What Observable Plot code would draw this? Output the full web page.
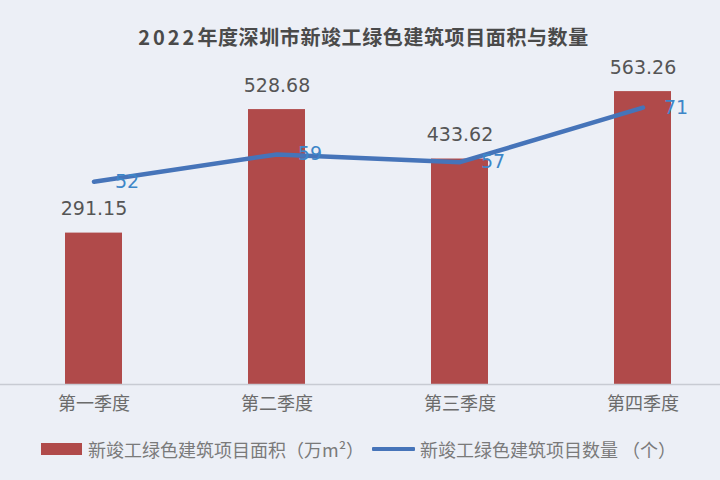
<!DOCTYPE html>
<html>
<head>
<meta charset="utf-8">
<script src="https://cdn.jsdelivr.net/npm/d3@7"></script>
<script src="https://cdn.jsdelivr.net/npm/@observablehq/plot@0.6"></script>
<style>
  html, body { margin: 0; padding: 0; background: #eceff6; }
  #wrap { position: relative; width: 720px; height: 480px; overflow: hidden; background: #eceff6; }
  #title { position: absolute; left: 0; top: 27px; width: 720px; padding-left: 7px; box-sizing: border-box; text-align: center;
           font-family: "Noto Sans CJK SC", sans-serif; font-weight: bold; font-size: 20px; line-height: 20px; color: #4a4a4a; letter-spacing: 0.6px; }
  #title .num { letter-spacing: 3px; }
  #chart { position: absolute; left: 0; top: 50px; }
  .lg { position: absolute; font-family: "Noto Sans CJK SC", sans-serif; font-size: 18px; line-height: 18px; color: #7a7a7a; top: 440px; white-space: nowrap; }
  .sw { position: absolute; }
</style>
</head>
<body>
<div id="wrap">
  <div id="title"></div>
  <div id="chart"></div>
  <div class="sw" id="sw1" style="left:41px;top:443px;width:41px;height:12px;background:#b04a4a;"></div>
  <div class="lg" id="lg1" style="left:88px;"></div>
  <div class="sw" id="sw2" style="left:372px;top:447px;width:43px;height:4px;background:#4674b9;border-radius:1px;"></div>
  <div class="lg" id="lg2" style="left:420px;"></div>
</div>
<script>
const titleYear = "2022";
const titleText = "年度深圳市新竣工绿色建筑项目面积与数量";
const quarters = ["第一季度", "第二季度", "第三季度", "第四季度"];
const areas = [291.15, 528.68, 433.62, 563.26];
const counts = [52, 59, 57, 71];
const areaDomain = [0, 600];
const countDomain = [0, 80];
const legendArea = "新竣工绿色建筑项目面积（万m²）";
const legendCount = "新竣工绿色建筑项目数量 （个）";

document.getElementById("title").innerHTML = '<span class="num">' + titleYear + '</span>' + titleText;
document.getElementById("lg1").textContent = legendArea;
document.getElementById("lg2").textContent = legendCount;

const data = quarters.map((q, i) => ({ q, area: areas[i], count: counts[i] }));
const k = areaDomain[1] / countDomain[1];

const chart = Plot.plot({
  width: 720,
  height: 380,
  marginTop: 22,
  marginBottom: 46,
  marginLeft: 18,
  marginRight: 2,
  style: { background: "transparent", fontFamily: "'Noto Sans CJK SC', sans-serif", overflow: "visible" },
  x: { domain: quarters, paddingInner: 0.687, paddingOuter: 0.249, label: null },
  y: { domain: areaDomain, axis: null },
  marks: [
    Plot.barY(data, { x: "q", y: "area", fill: "#b04a4a" }),
    Plot.ruleY([0], { stroke: "#c8cbd3", strokeWidth: 1.5, insetLeft: -18, insetRight: -2 }),
    Plot.line(data, { x: "q", y: d => d.count * k, stroke: "#4674b9", strokeWidth: 4.5, strokeLinecap: "round", strokeLinejoin: "round" }),
    Plot.text(data, { x: "q", y: "area", text: d => d.area.toFixed(2), dy: -24, fontSize: 19, fill: "#555555", fontFamily: "DejaVu Sans" }),
    Plot.text(data, { x: "q", y: d => d.count * k, text: d => String(d.count), dx: 21, textAnchor: "start", fontSize: 19, fill: "#3d86c8", fontFamily: "DejaVu Sans" }),
    Plot.axisX({ tickSize: 0, tickPadding: 13, fontSize: 18, fill: "#6b6b6b", label: null })
  ]
});
document.getElementById("chart").appendChild(chart);
</script>
</body>
</html>
